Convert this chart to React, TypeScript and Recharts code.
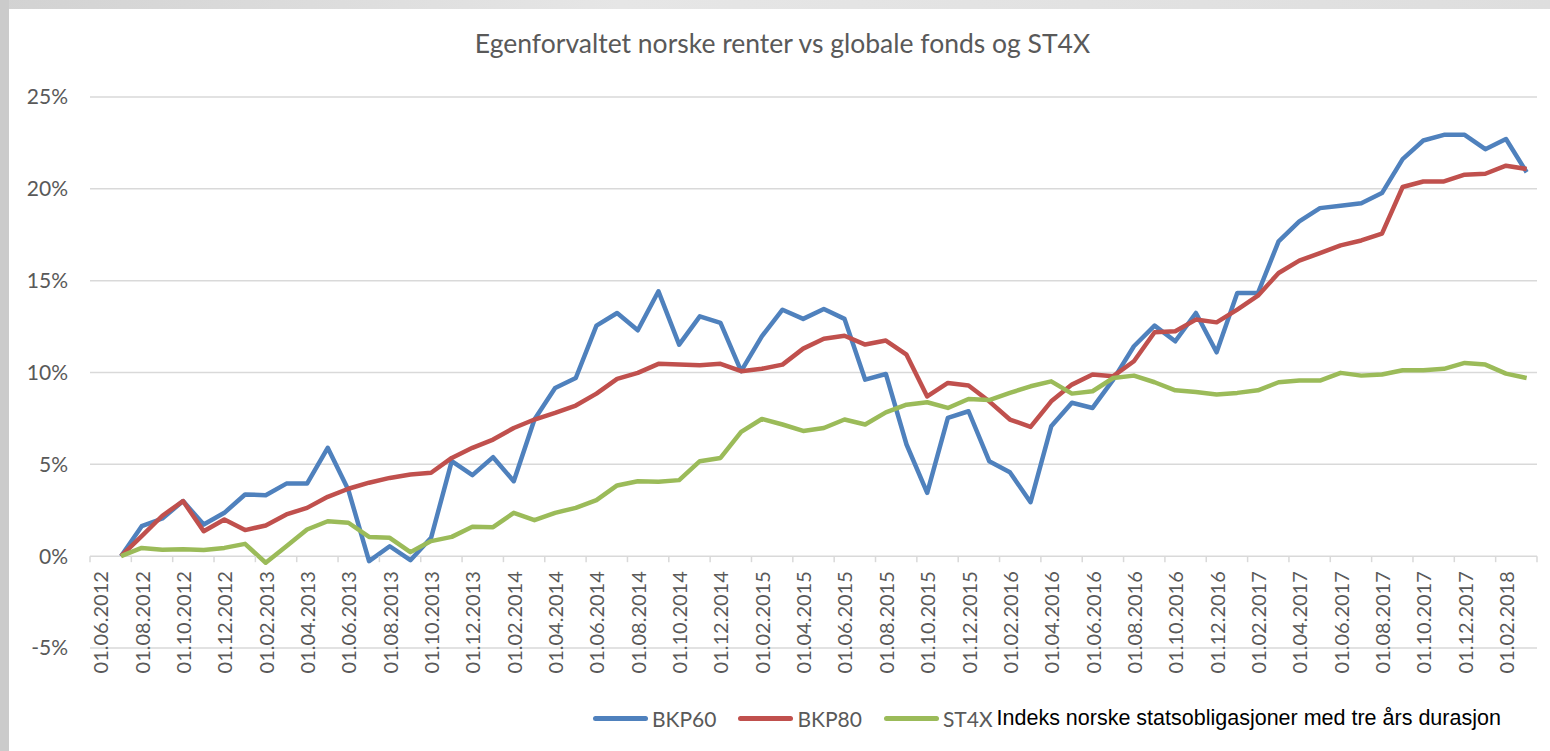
import { LineChart, Line, XAxis, YAxis, CartesianGrid, Legend } from 'recharts'

const categories = [
  '01.06.2012', '01.07.2012', '01.08.2012', '01.09.2012', '01.10.2012', '01.11.2012', '01.12.2012',
  '01.01.2013', '01.02.2013', '01.03.2013', '01.04.2013', '01.05.2013', '01.06.2013',
  '01.07.2013', '01.08.2013', '01.09.2013', '01.10.2013', '01.11.2013', '01.12.2013',
  '01.01.2014', '01.02.2014', '01.03.2014', '01.04.2014', '01.05.2014', '01.06.2014',
  '01.07.2014', '01.08.2014', '01.09.2014', '01.10.2014', '01.11.2014', '01.12.2014',
  '01.01.2015', '01.02.2015', '01.03.2015', '01.04.2015', '01.05.2015', '01.06.2015',
  '01.07.2015', '01.08.2015', '01.09.2015', '01.10.2015', '01.11.2015', '01.12.2015',
  '01.01.2016', '01.02.2016', '01.03.2016', '01.04.2016', '01.05.2016', '01.06.2016',
  '01.07.2016', '01.08.2016', '01.09.2016', '01.10.2016', '01.11.2016', '01.12.2016',
  '01.01.2017', '01.02.2017', '01.03.2017', '01.04.2017', '01.05.2017', '01.06.2017',
  '01.07.2017', '01.08.2017', '01.09.2017', '01.10.2017', '01.11.2017', '01.12.2017',
  '01.01.2018', '01.02.2018', '01.03.2018',
]

// percent return since start
const bkp60 = [
  null, 0, 1.63, 2.05, 3.0, 1.72, 2.36, 3.36, 3.32, 3.95, 3.95, 5.9, 3.6, -0.27, 0.54, -0.22,
  1.0, 5.17, 4.41, 5.39, 4.08, 7.44, 9.16, 9.7, 12.55, 13.24, 12.3, 14.42, 11.52, 13.06, 12.7,
  10.07, 11.97, 13.42, 12.92, 13.46, 12.92, 9.61, 9.92, 6.08, 3.45, 7.53, 7.89, 5.17, 4.57,
  2.94, 7.07, 8.35, 8.07, 9.61, 11.43, 12.55, 11.7, 13.24, 11.1, 14.33, 14.33, 17.14, 18.23,
  18.95, 19.08, 19.22, 19.77, 21.62, 22.63, 22.94, 22.94, 22.16, 22.71, 20.9,
]
const bkp80 = [
  null, 0, 1.09, 2.2, 3.0, 1.36, 2.0, 1.42, 1.67, 2.27, 2.63, 3.23, 3.67, 4.0, 4.26, 4.45,
  4.54, 5.35, 5.9, 6.35, 6.98, 7.44, 7.8, 8.2, 8.85, 9.65, 9.98, 10.47, 10.43, 10.4, 10.47,
  10.07, 10.2, 10.43, 11.3, 11.84, 12.0, 11.52, 11.74, 10.97, 8.7, 9.43, 9.29, 8.43, 7.44,
  7.04, 8.43, 9.34, 9.89, 9.8, 10.61, 12.19, 12.25, 12.88, 12.73, 13.42, 14.18, 15.42, 16.09,
  16.5, 16.92, 17.19, 17.56, 20.1, 20.4, 20.4, 20.77, 20.82, 21.26, 21.08,
]
const st4x = [
  null, 0, 0.45, 0.35, 0.38, 0.33, 0.45, 0.67, -0.36, 0.54, 1.45, 1.9, 1.82, 1.05, 1.0, 0.22,
  0.82, 1.05, 1.6, 1.58, 2.36, 1.96, 2.36, 2.63, 3.05, 3.85, 4.08, 4.05, 4.14, 5.17, 5.35,
  6.77, 7.47, 7.17, 6.82, 6.98, 7.44, 7.17, 7.83, 8.25, 8.38, 8.07, 8.56, 8.5, 8.89,
  9.25, 9.52, 8.85, 8.98, 9.7, 9.83, 9.47, 9.03, 8.94, 8.8, 8.89, 9.03, 9.47, 9.56,
  9.56, 9.98, 9.83, 9.89, 10.12, 10.12, 10.2, 10.52, 10.43, 9.94, 9.7,
]

const yTicks = [-5, 0, 5, 10, 15, 20, 25]
const lastShownLabel = '01.02.2018'
const indexNote = 'Indeks norske statsobligasjoner med tre års durasjon'

const data = categories.map((date, i) => ({
  date,
  BKP60: bkp60[i],
  BKP80: bkp80[i],
  ST4X: st4x[i],
}))

const W = 1550
const H = 751
const MARGIN = { top: 97, right: 13, bottom: 3, left: 0 }
const Y_AXIS_W = 90
const X_AXIS_H = 100
const plotW = W - MARGIN.left - MARGIN.right - Y_AXIS_W
const plotH = H - MARGIN.top - MARGIN.bottom - X_AXIS_H
const band = plotW / categories.length
const zeroY = MARGIN.top + (plotH * 25) / 30

const FONT = 'Lato, "Open Sans", sans-serif'
const GREY = '#595959'
const GRID = '#d9d9d9'

function DateTick({ x, payload }: any) {
  const ty = zeroY + 15
  return (
    <g>
      <line x1={x - band / 2} x2={x - band / 2} y1={zeroY} y2={zeroY + 6} stroke={GRID} strokeWidth={1.5} />
      {payload.value === lastShownLabel && (
        <line x1={x + 1.5 * band} x2={x + 1.5 * band} y1={zeroY} y2={zeroY + 6} stroke={GRID} strokeWidth={1.5} />
      )}
      <text
        x={x}
        y={ty}
        transform={`rotate(-90 ${x} ${ty})`}
        textAnchor="end"
        dominantBaseline="central"
        fontSize={20}
        fontFamily={FONT}
        fill={GREY}
      >
        {payload.value}
      </text>
    </g>
  )
}

function LegendContent({ payload }: any) {
  return (
    <div style={{ display: 'flex', alignItems: 'center', paddingLeft: 593, height: 26 }}>
      {(payload || []).map((p: any) => (
        <div key={p.value} style={{ display: 'flex', alignItems: 'center', marginRight: 22 }}>
          <span style={{ display: 'inline-block', width: 55, height: 5, borderRadius: 3, background: p.color }} />
          <span style={{ marginLeft: 4, fontFamily: FONT, fontSize: 21, color: GREY }}>{p.value}</span>
        </div>
      ))}
      <span style={{ marginLeft: -18, fontFamily: '"Liberation Sans", Arial, sans-serif', fontSize: 21.5, color: '#000' }}>
        {indexNote}
      </span>
    </div>
  )
}

export default function App() {
  return (
    <div style={{ position: 'absolute', left: 0, top: 0, width: W, height: H, background: '#fff', overflow: 'hidden' }}>
      <div style={{ position: 'absolute', left: 0, top: 0, width: W, height: 9, background: 'linear-gradient(to right, #d2d2d2, #e6e6e6 40%, #dedede)' }} />
      <div style={{ position: 'absolute', left: 0, top: 0, width: 9, height: H, background: '#cbcbcb' }} />
      <div
        style={{
          position: 'absolute',
          left: 15,
          width: W - 15,
          top: 27,
          textAlign: 'center',
          fontFamily: FONT,
          fontSize: 26.5,
          fontWeight: 400,
          color: GREY,
        }}
      >
        Egenforvaltet norske renter vs globale fonds og ST4X
      </div>
      <div style={{ position: 'absolute', left: 0, top: 0 }}>
        <LineChart width={W} height={H} data={data} margin={MARGIN}>
          <CartesianGrid vertical={false} stroke={GRID} strokeWidth={1.5} />
          <XAxis
            dataKey="date"
            interval={1}
            height={X_AXIS_H}
            axisLine={false}
            tickLine={false}
            padding={{ left: band / 2, right: band / 2 }}
            tick={<DateTick />}
          />
          <YAxis
            width={Y_AXIS_W}
            domain={[-5, 25]}
            ticks={yTicks}
            allowDataOverflow
            axisLine={false}
            tickLine={false}
            tickSize={0}
            tickMargin={22}
            tickFormatter={(v: number) => `${v}%`}
            tick={{ fontSize: 21, fontFamily: FONT, fill: GREY }}
          />
          <Legend
            layout="horizontal"
            verticalAlign="middle"
            align="center"
            wrapperStyle={{ top: 705, left: 0, width: W }}
            content={<LegendContent />}
          />
          <Line dataKey="BKP60" stroke="#4f81bd" strokeWidth={4.5} dot={false} isAnimationActive={false} strokeLinejoin="round" />
          <Line dataKey="BKP80" stroke="#c0504d" strokeWidth={4.5} dot={false} isAnimationActive={false} strokeLinejoin="round" />
          <Line dataKey="ST4X" stroke="#9bbb59" strokeWidth={4.5} dot={false} isAnimationActive={false} strokeLinejoin="round" />
        </LineChart>
      </div>
    </div>
  )
}
